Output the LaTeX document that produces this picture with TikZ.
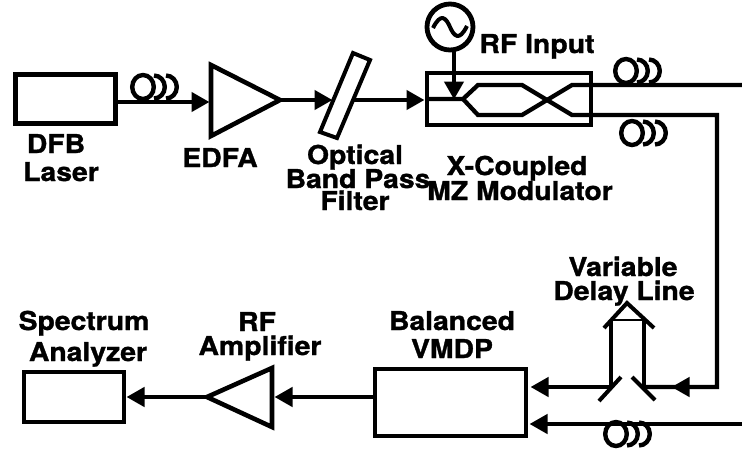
\documentclass[tikz,border=0pt]{standalone}
\usepackage{fontspec}
\setmainfont{TeX Gyre Heros}[FakeStretch=1.09,BoldFeatures={FakeBold=1.2,FakeStretch=1.09}]
\usetikzlibrary{arrows.meta}
\tikzset{
  x=1pt,y=-1pt,
  wire/.style={line width=4.3pt,line join=miter},
  ray/.style={wire,-{Triangle[length=18pt,width=19pt]},shorten >=-0.5pt},
  box/.style={draw,line width=4.6pt,inner sep=0pt,outer sep=0pt,anchor=north west},
  lab/.style={font=\fontsize{26}{26}\selectfont\bfseries,anchor=base,inner sep=0pt},
  coilwire/.style={line width=4.4pt},
  pics/coil/.style={code={
    \draw[coilwire] (0,0) ellipse[x radius=10.8pt,y radius=12pt];
    \draw[coilwire] (11,-11.5) arc[start angle=90,end angle=-90,x radius=10.8pt,y radius=11.5pt];
    \draw[coilwire] (23,-11.5) arc[start angle=90,end angle=-90,x radius=10.8pt,y radius=11.5pt];
  }}
}
\begin{document}
\begin{tikzpicture}
\useasboundingbox (0,0) rectangle (742,448);
% blocks
\node[box,minimum width=100pt,minimum height=49pt] (laser) at (15.5,74.5) {};
\node[box,minimum width=164pt,minimum height=52pt] (mz) at (427,73) {};
\node[box,minimum width=151pt,minimum height=67pt] (vmdp) at (375,369) {};
\node[box,minimum width=100pt,minimum height=50pt] (sa) at (24,372) {};
\node[draw,circle,line width=4.8pt,outer sep=0pt,minimum size=46pt,inner sep=0pt] (rf) at (450,27) {};
% amplifiers and filter
\coordinate (ea1) at (211,65); \coordinate (ea2) at (211,136); \coordinate (eap) at (280,100);
\draw[line width=4.6pt,line join=miter] (ea1) -- (eap) -- (ea2) -- cycle;
\coordinate (ra1) at (272,368); \coordinate (ra2) at (272,427); \coordinate (rap) at (207,397);
\draw[line width=4.6pt,line join=miter] (ra1) -- (rap) -- (ra2) -- cycle;
\coordinate (f1) at (353,53); \coordinate (f2) at (370,60); \coordinate (f3) at (337,138); \coordinate (f4) at (320,132);
\draw[line width=4pt,line join=miter] (f1) -- (f2) -- (f3) -- (f4) -- cycle;
% sine
\draw[line width=4pt] (433,28) .. controls (441,12) and (446,18) .. (450,27) .. controls (454,36) and (459,42) .. (467,26);
% waveguides
\coordinate (inl) at (426,99); \coordinate (sp) at (463,99);
\coordinate (u1) at (478,85); \coordinate (u2) at (522,85);
\coordinate (l1) at (478,115); \coordinate (l2) at (522,115);
\coordinate (o1) at (572,85); \coordinate (o2) at (572,115);
\coordinate (e1) at (742,85); \coordinate (corner) at (717,115); \coordinate (corner2) at (717,387);
\coordinate (e2) at (742,424);
\draw[wire] (inl) -- (sp) -- (u1) -- (u2) -- (o2) -- (corner) -- (corner2) -- (645,387);
\draw[wire] (sp) -- (l1) -- (l2) -- (o1) -- (e1);
% connectors
\draw[ray] (laser.east |- 0,102) -- (209,102);
\draw[ray] (eap) -- (332,100);
\draw[ray] (353,100) -- (424,100);
\draw[ray] (454,50) -- (454,99);
\draw[ray] (corner2) -- (672,387);
\coordinate (vl) at (611,387); \coordinate (vr) at (644,387);
\draw[ray] (vl) -- (531,387);
\draw[ray] (e2) -- (530,424);
\draw[ray] (vmdp.west |- 0,397) -- (275,397);
\draw[ray] (rap) -- (127,397);
% delay line
\coordinate (ap) at (627,303); \coordinate (rl) at (604,328); \coordinate (rr) at (654,328);
\draw[wire] (vl) -- (611,321);
\draw[wire] (vr) -- (644,321);
\draw[line width=2pt] (612,320) -- (643,320);
\draw[line width=4pt] (rl) -- (ap) -- (rr);
\draw[line width=4pt] (621,377) -- (599,401);
\draw[line width=4pt] (632,377) -- (655,400);
% coils
\pic at (626,71) {coil};
\pic at (632,133) {coil};
\pic at (143,87) {coil};
\pic at (616,434) {coil};
% labels
\node[lab] (l1a) at (56,153) {DFB};
\node[lab] (l1b) at (61,181) {Laser};
\node[lab] (l2a) at (220,167) {EDFA};
\node[lab] (l3a) at (355,164) {Optical};
\node[lab] (l3b) at (358,188) {Band Pass};
\node[lab] (l3c) at (355,210) {Filter};
\node[lab] (l4) at (537,53) {RF Input};
\node[lab] (l5a) at (517,175) {X-Coupled};
\node[lab] (l5b) at (520,200) {MZ Modulator};
\node[lab] (l6a) at (623,276) {Variable};
\node[lab] (l6b) at (624,300) {Delay Line};
\node[lab] (l7a) at (452,330) {Balanced};
\node[lab] (l7b) at (452,358) {VMDP};
\node[lab] (l8a) at (84,330) {Spectrum};
\node[lab] (l8b) at (88,361) {Analyzer};
\node[lab] (l9a) at (257,331) {RF};
\node[lab] (l9b) at (260,355) {Amplifier};
\end{tikzpicture}
\end{document}
